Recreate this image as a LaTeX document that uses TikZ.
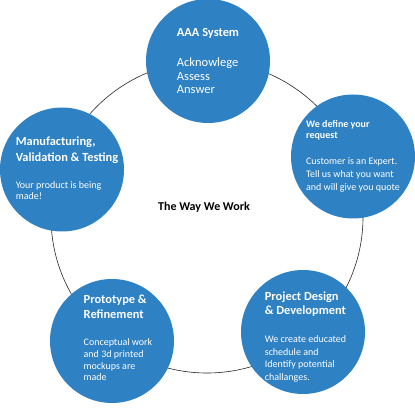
\documentclass[tikz,border=0pt]{standalone}
\usepackage{fontspec}
\setmainfont{Carlito}
\definecolor{stageblue}{RGB}{46,129,195}
\newcommand{\stagehead}[1]{{\fontsize{12.4}{15}\selectfont\bfseries #1}}
\begin{document}
\begin{tikzpicture}[x=1pt, y=1pt,
  stage/.style={circle, fill=stageblue, minimum size=124pt, inner sep=0pt},
  note/.style={text=white, align=left, inner sep=0pt},
  ring/.style={draw=black!85, line width=0.6pt}]
\useasboundingbox (0,0) rectangle (415,415);
\coordinate (hub) at (207,198);
\draw[ring] (hub) circle (156pt);
% the five stages
\node[stage] (aaa) at (208,354) {};
\node[stage] (request) at (353,258.5) {};
\node[stage] (design) at (303,83) {};
\node[stage] (proto) at (112,74) {};
\node[stage] (manuf) at (62,245.5) {};
% texts
\node[note, font=\fontsize{12.5}{13.5}\selectfont] (aaa-txt) at (aaa) {\stagehead{AAA System}\\[16.5pt]Acknowlege\\Assess\\Answer};
\node[note, font=\fontsize{10}{13}\selectfont] (request-txt) at ([yshift=0.5pt]request.center) {\textbf{We define your}\\[-1.5pt]\textbf{request}\\[12.5pt]Customer is an Expert.\\Tell us what you want\\and will give you quote};
\node[note, font=\fontsize{10}{12.5}\selectfont] (design-txt) at ([xshift=2.5pt, yshift=-5pt]design.center) {\stagehead{Project Design}\\[1.5pt]\stagehead{\& Development}\\[15.5pt]We create educated\\schedule and\\Identify potential\\challanges.};
\node[note, font=\fontsize{10}{11.7}\selectfont] (proto-txt) at ([xshift=6pt, yshift=3pt]proto.center) {\stagehead{Prototype \&}\\[3.3pt]\stagehead{Refinement}\\[15.3pt]Conceptual work\\and 3d printed\\mockups are\\made};
\node[note, font=\fontsize{10}{11.5}\selectfont] (manuf-txt) at ([xshift=5pt, yshift=1.5pt]manuf.center) {\stagehead{Manufacturing,}\\[4.5pt]\stagehead{Validation \& Testing}\\[15.5pt]Your product is being\\made!};
\node[font=\fontsize{12}{14}\selectfont\bfseries] (title) at (204,208) {The Way We Work};
\end{tikzpicture}
\end{document}
